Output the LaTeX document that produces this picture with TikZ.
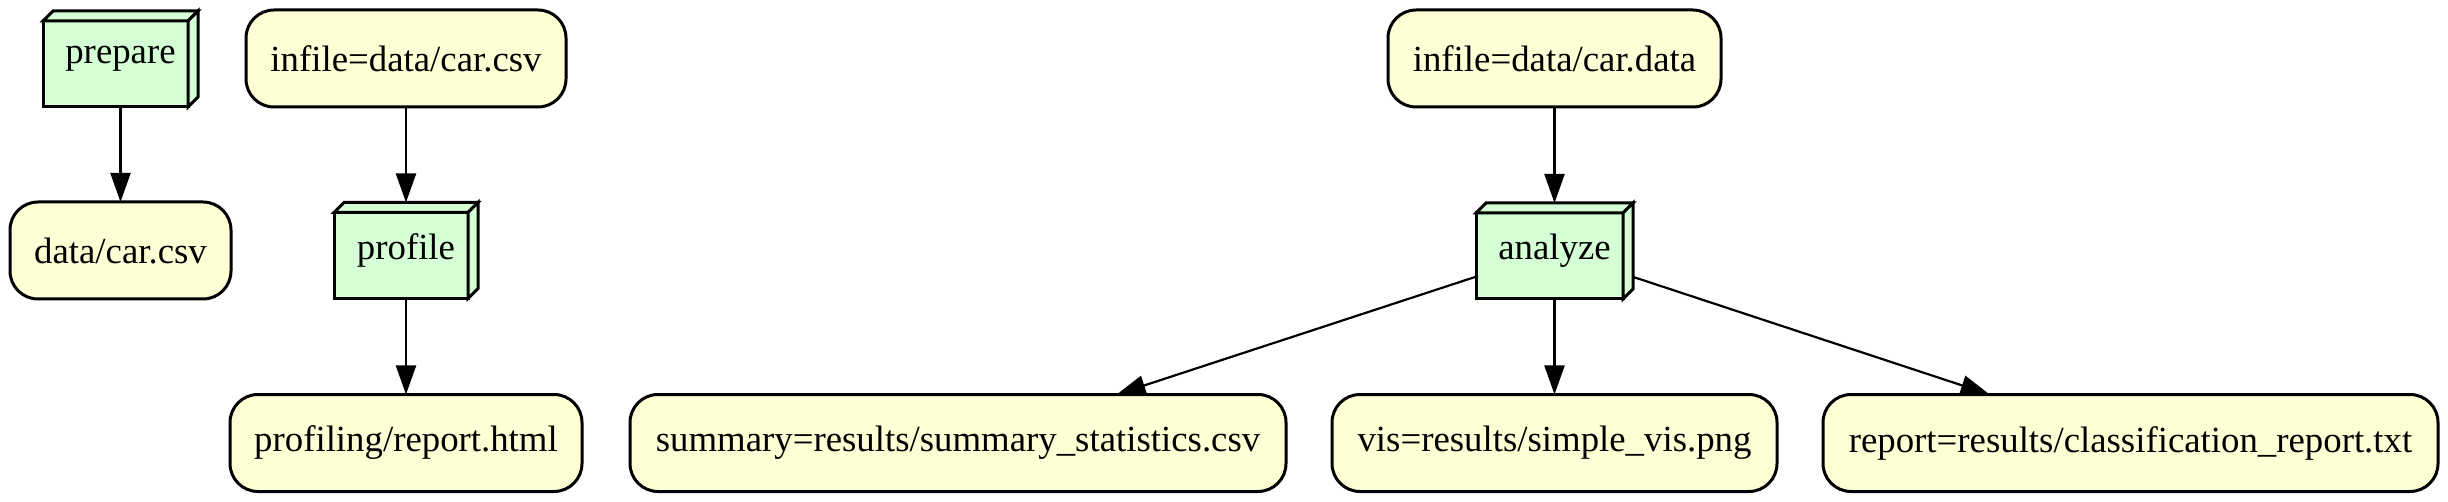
\documentclass[tikz,border=0pt]{standalone}
\usepackage{fontspec}
\setmainfont{Liberation Serif}
\usetikzlibrary{arrows.meta,backgrounds,calc}
\definecolor{fileyellow}{HTML}{FFFFD5}
\definecolor{taskgreen}{HTML}{D5FFD5}
\newcommand\boxthreed[1]{%
 \filldraw[boxface] (#1.south west) -- ($(#1.north west)+(0,10)$) -- ($(#1.north east)+(-10,10)$) -- ($(#1.south east)+(-10,0)$) -- cycle;
 \filldraw[boxface] ($(#1.north west)+(0,10)$) -- ($(#1.north west)+(10,0)$) -- (#1.north east) -- ($(#1.north east)+(-10,10)$) -- cycle;
 \filldraw[boxface] ($(#1.north east)+(-10,10)$) -- (#1.north east) -- ($(#1.south east)+(0,-10)$) -- ($(#1.south east)+(-10,0)$) -- cycle;}
\begin{document}
\begin{tikzpicture}[x=0.5pt,y=-0.5pt,
  every node/.style={font=\fontsize{18.4}{22}\selectfont, inner sep=0pt, outer sep=0pt},
  filenode/.style={draw, line width=1.5pt, fill=fileyellow, rounded corners=14pt, minimum height=48.5pt},
  tasknode/.style={minimum height=48pt},
  boxface/.style={fill=taskgreen, draw=black, line width=1.5pt},
  conn/.style={-{Triangle[length=14.5pt,width=10pt]}, line width=1.1pt}]
\useasboundingbox (0,0) rectangle (2448,502);
\node[tasknode, minimum width=77.5pt] (prepare) at (120.5,59) {prepare};
\node[filenode, minimum width=110.5pt] (data) at (120.5,250.5) {data/car.csv};
\node[filenode, minimum width=160pt] (in1) at (406,58.5) {infile=data/car.csv};
\node[tasknode, minimum width=72pt] (profile) at (406,250.5) {profile};
\node[filenode, minimum width=176pt] (prof) at (406,443) {profiling/report.html};
\node[filenode, minimum width=166.5pt] (in2) at (1554.5,58.5) {infile=data/car.data};
\node[tasknode, minimum width=78.5pt] (analyze) at (1554.5,251) {analyze};
\node[filenode, minimum width=328pt] (summary) at (958,443) {summary=results/summary\_statistics.csv};
\node[filenode, minimum width=222.5pt] (vis) at (1554.5,443) {vis=results/simple\_vis.png};
\node[filenode, minimum width=307.5pt] (report) at (2130.5,443) {report=results/classification\_report.txt};
\begin{scope}[on background layer]
\boxthreed{prepare}
\boxthreed{profile}
\boxthreed{analyze}
\end{scope}
\draw[conn] (prepare) -- (data);
\draw[conn] (in1) -- (profile);
\draw[conn] (profile) -- (prof);
\draw[conn] (in2) -- (analyze);
\draw[conn] (analyze) -- (vis);
\draw[conn] (analyze) -- (summary.17.7);
\draw[conn] (analyze) -- (report.161.7);
\end{tikzpicture}
\end{document}
